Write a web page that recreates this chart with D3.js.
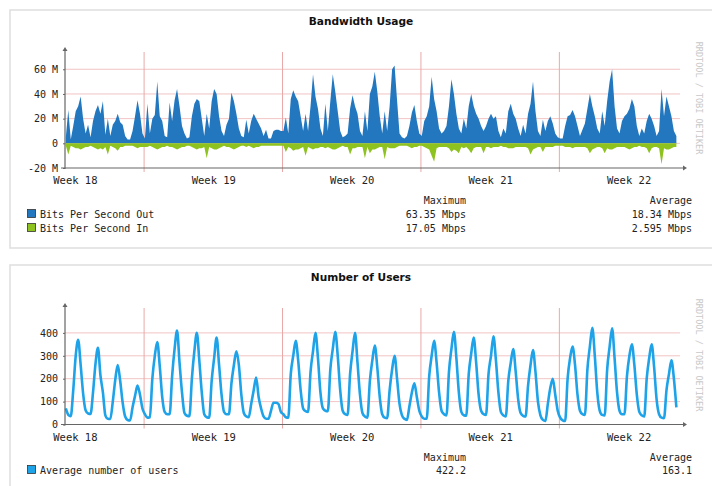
<!DOCTYPE html>
<html><head><meta charset="utf-8">
<script src="https://cdn.jsdelivr.net/npm/d3@7"></script>
<style>body{margin:0;background:#fff}svg{display:block}</style>
</head><body>
<svg id="c" width="712" height="486"></svg>
<script>
// ---------- data ----------
const weeks = ["Week 18","Week 19","Week 20","Week 21","Week 22"];
const weekMidDays = [3.5,10.5,17.5,24.5,31.5];
const weekStartDays = [7,14,21,28];
const firstDay = 3;
const sampleHours = [1,4,7,10,13,16,19,22];

const bwTicks = [-20e6,0,20e6,40e6,60e6];
const bwTickLabels = ["-20 M","0","20 M","40 M","60 M"];
const userTicks = [0,100,200,300,400];

// Bits per second out (Mbps), 8 samples per day, days 3..33
const bwOut = [
 5,27,3,14,26,30,38,20,
 8,15,5,18,26,31,24,34,
 7,20,6,15,18,24,17,15,
 6,3,3,10,22,35,24,8,
 4,32,8,20,23,50,22,18,
 6,5,33,18,35,44,30,14,
 8,4,5,22,32,36,34,20,
 6,24,12,34,44,40,22,10,
 6,15,20,41,34,24,12,6,
 5,19,8,18,24,20,16,12,
 6,11,4,4,10,11,11,10,
 10,21,8,36,43,38,34,22,
 10,24,10,30,56,38,28,12,
 6,32,10,34,56,42,26,10,
 5,6,8,28,39,30,24,10,
 6,26,10,40,46,58,42,22,
 8,26,10,30,60,63,35,8,
 5,4,6,14,25,31,18,8,
 6,18,22,30,54,36,26,12,
 8,10,14,30,52,40,24,12,
 8,20,12,30,40,30,24,20,
 14,10,14,20,24,20,22,10,
 5,12,8,26,32,24,20,12,
 6,15,8,24,32,50,26,10,
 6,19,10,18,22,16,8,5,
 4,4,14,22,23,27,22,14,
 6,11,16,28,40,30,22,12,
 8,26,14,34,50,60,30,12,
 8,18,22,24,28,36,30,14,
 6,12,8,18,24,20,14,6,
 10,44,22,38,30,22,10,6
];
// Bits per second in (Mbps, drawn below zero)
const bwIn = [
 2,9,2,3,4,4,5,4,
 3,3,2,3,4,5,4,5,
 3,9,2,3,4,6,3,3,
 2,2,2,2,3,4,3,3,
 3,3,2,3,4,5,4,3,
 3,2,3,3,4,5,4,3,
 3,2,2,3,4,5,4,4,
 3,12,3,4,5,5,4,3,
 2,3,3,4,5,4,3,2,
 2,3,2,3,4,3,3,2,
 2,2,2,2,2,2,2,2,
 2,7,3,4,6,5,5,4,
 3,10,3,4,5,4,4,3,
 3,4,3,4,5,5,4,3,
 2,3,3,9,4,4,3,3,
 3,12,3,8,5,5,4,3,
 3,13,3,4,4,4,3,2,
 2,2,2,3,4,3,3,2,
 2,3,4,5,10,15,4,3,
 3,3,3,4,7,5,6,8,
 3,4,3,5,8,4,3,3,
 3,8,3,3,4,3,3,3,
 2,3,3,4,4,4,3,3,
 3,3,3,4,9,5,4,3,
 3,7,3,3,3,3,2,2,
 2,2,3,3,3,4,3,3,
 3,3,3,4,8,5,4,3,
 3,4,8,4,5,5,4,3,
 3,3,3,4,5,4,3,3,
 2,3,3,4,8,4,3,3,
 4,17,4,5,5,4,3,3
];
// Average number of users
const users = [
 70,42,36,150,300,370,260,135,
 62,48,46,140,265,335,215,140,
 40,25,24,100,195,260,190,95,
 35,20,18,75,125,170,130,70,
 45,30,32,200,300,360,255,120,
 55,45,45,210,330,410,270,140,
 50,38,36,200,320,400,280,140,
 45,32,30,190,290,380,260,130,
 55,45,45,180,260,320,260,130,
 50,35,32,90,150,205,120,70,
 35,25,25,60,95,95,90,55,
 45,32,30,220,300,365,280,150,
 70,58,55,230,320,400,290,140,
 70,60,58,240,330,405,300,150,
 60,45,42,220,320,400,270,130,
 50,35,30,190,280,345,250,120,
 45,30,28,150,240,300,200,90,
 40,25,20,80,140,180,120,60,
 35,25,25,210,300,365,270,140,
 60,45,40,230,330,405,290,140,
 55,40,38,220,310,380,270,130,
 60,45,42,220,300,385,280,140,
 55,40,35,190,270,330,230,110,
 50,38,35,170,260,325,230,100,
 40,20,15,90,160,200,130,60,
 30,18,15,200,290,340,260,130,
 60,45,42,240,340,422,300,140,
 60,42,40,240,340,420,290,140,
 60,45,45,210,300,350,260,130,
 55,40,35,200,290,350,250,110,
 45,30,28,150,220,280,200,75
];
const bwLegend = ["Bits Per Second Out","Bits Per Second In"];
const bwMax = ["63.35 Mbps","17.05 Mbps"];
const bwAvg = ["18.34 Mbps","2.595 Mbps"];
const userLegend = ["Average number of users"];
const userMax = ["422.2"];
const userAvg = ["163.1"];

// ---------- drawing ----------
const times = users.map((_, i) => firstDay + Math.floor(i / 8) + sampleHours[i % 8] / 24);
const svg = d3.select("#c");
const MONO = "DejaVu Sans Mono, monospace";
const GRID = "#f2c4c4";
const VGRID = "#eaa8a8";
const AXIS = "#666";
const TXT = "#222";

const x = d3.scaleLinear().domain([3, 34.1]).range([65, 680]);

function panel(y0, h) {
  svg.append("rect").attr("x", 10).attr("y", y0).attr("width", 720).attr("height", h)
    .attr("fill", "#fff").attr("stroke", "#dedede").attr("stroke-width", 1.5);
}

function frame(y, top, bottom, yTicks, yLabels, title, titleY) {
  const g = svg.append("g");
  g.append("text").attr("x", 361).attr("y", titleY).attr("text-anchor", "middle")
    .attr("font-family", "DejaVu Sans, sans-serif").attr("font-weight", "bold")
    .attr("font-size", 10.6).attr("fill", "#111").text(title);
  g.selectAll(".hg").data(yTicks.filter(v => y(v) < bottom - 1)).enter().append("line")
    .attr("x1", 65).attr("x2", 680).attr("y1", d => y(d)).attr("y2", d => y(d))
    .attr("stroke", GRID).attr("stroke-width", 1);
  g.selectAll(".vg").data(weekStartDays).enter().append("line")
    .attr("x1", d => x(d)).attr("x2", d => x(d)).attr("y1", top).attr("y2", bottom + 4)
    .attr("stroke", VGRID).attr("stroke-width", 1);
  const ya = g.append("g").attr("transform", "translate(65,0)")
    .call(d3.axisLeft(y).tickValues(yTicks).tickFormat((d, i) => yLabels[i]).tickSize(2).tickPadding(5));
  ya.select(".domain").remove();
  ya.selectAll("line").attr("stroke", AXIS);
  ya.selectAll("text").attr("font-family", MONO).attr("font-size", 10).attr("fill", TXT);
  const xa = g.append("g").attr("transform", `translate(0,${bottom})`)
    .call(d3.axisBottom(x).tickValues(weekMidDays).tickFormat((d, i) => weeks[i]).tickSize(0).tickPadding(9));
  xa.select(".domain").remove();
  xa.selectAll("text").attr("font-family", MONO).attr("font-size", 10.5).attr("fill", TXT);
  return g;
}

function axesLines(top, bottom) {
  svg.append("line").attr("x1", 65).attr("x2", 65).attr("y1", bottom + 1).attr("y2", top - 2)
    .attr("stroke", AXIS).attr("stroke-width", 1.2);
  svg.append("path").attr("d", `M62.5,${top - 1}L65,${top - 5}L67.5,${top - 1}Z`).attr("fill", AXIS);
  svg.append("line").attr("x1", 61).attr("x2", 684).attr("y1", bottom).attr("y2", bottom)
    .attr("stroke", AXIS).attr("stroke-width", 1.2);
  svg.append("path").attr("d", `M683,${bottom - 2.5}L687,${bottom}L683,${bottom + 2.5}Z`).attr("fill", AXIS);
}

function watermark(yc) {
  svg.append("text").attr("transform", `translate(696,${yc}) rotate(90)`)
    .attr("text-anchor", "middle").attr("font-family", MONO).attr("font-size", 8.5)
    .attr("fill", "#c8c8c8").text("RRDTOOL / TOBI OETIKER");
}

function legendRow(yc, color, label) {
  svg.append("rect").attr("x", 27.5).attr("y", yc - 4.5).attr("width", 8).attr("height", 8)
    .attr("fill", color).attr("stroke", "#333").attr("stroke-width", 0.8);
  svg.append("text").attr("x", 40).attr("y", yc + 3.5).attr("font-family", MONO)
    .attr("font-size", 10).attr("fill", TXT).text(label);
}
function rightText(xr, yc, t) {
  svg.append("text").attr("x", xr).attr("y", yc + 3.5).attr("text-anchor", "end")
    .attr("font-family", MONO).attr("font-size", 10).attr("fill", TXT).text(t);
}

// ===== Panel 1: Bandwidth =====
panel(10, 238);
const yb = d3.scaleLinear().domain([-20e6, 74e6]).range([168, 52]);
frame(yb, 52, 168, bwTicks, bwTickLabels, "Bandwidth Usage", 25);
const outArea = d3.area().x((d, i) => x(times[i])).y0(yb(0)).y1(d => yb(d * 1e6)).curve(d3.curveLinear);
const inArea = d3.area().x((d, i) => x(times[i])).y0(yb(0)).y1(d => yb(-d * 1e6)).curve(d3.curveLinear);
svg.append("path").datum(bwOut).attr("d", outArea).attr("fill", "#2277bf");
svg.append("path").datum(bwIn).attr("d", inArea).attr("fill", "#8dc21f");
axesLines(52, 168);
watermark(98);
legendRow(214, "#2277bf", bwLegend[0]);
legendRow(228, "#8dc21f", bwLegend[1]);
rightText(466, 200, "Maximum");
rightText(466, 214, bwMax[0]);
rightText(466, 228, bwMax[1]);
rightText(692, 200, "Average");
rightText(692, 214, bwAvg[0]);
rightText(692, 228, bwAvg[1]);

// ===== Panel 2: Users =====
panel(265, 240);
const yu = d3.scaleLinear().domain([0, 500]).range([424.5, 310]);
frame(yu, 308, 424.5, userTicks, userTicks.map(String), "Number of Users", 281);
const uLine = d3.line().x((d, i) => x(times[i])).y(d => yu(d)).curve(d3.curveMonotoneX);
svg.append("path").datum(users).attr("d", uLine).attr("fill", "none")
  .attr("stroke", "#1ea2e8").attr("stroke-width", 2.6).attr("stroke-linejoin", "round");
axesLines(308, 424.5);
watermark(355);
legendRow(470, "#1ea2e8", userLegend[0]);
rightText(466, 457, "Maximum");
rightText(466, 470, userMax[0]);
rightText(692, 457, "Average");
rightText(692, 470, userAvg[0]);
</script>
</body></html>
